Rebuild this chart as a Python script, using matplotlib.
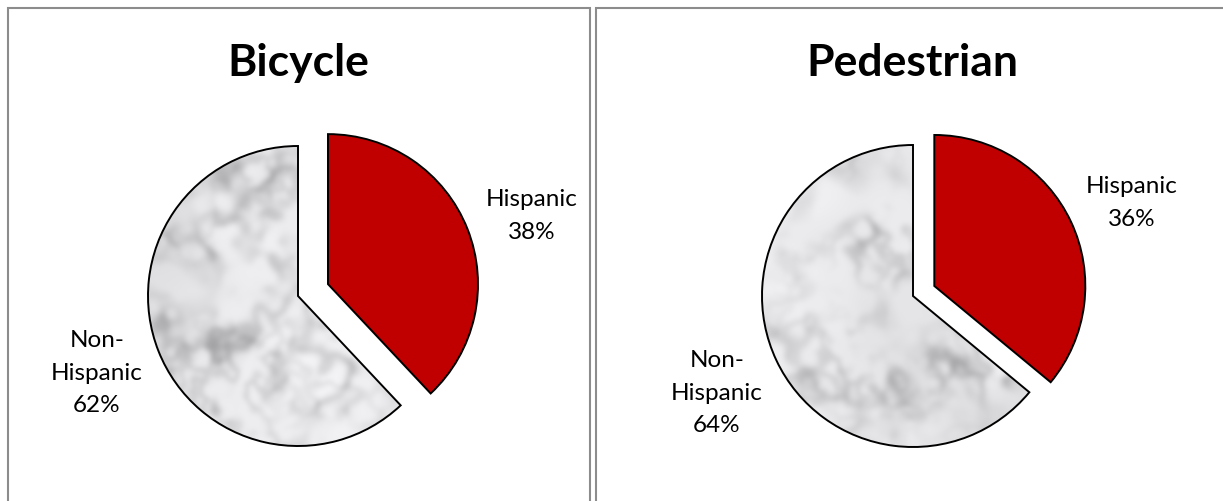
import numpy as np
import matplotlib
matplotlib.use("Agg")
import matplotlib.pyplot as plt
from matplotlib.patches import Rectangle

# Data
categories = ["Hispanic", "Non-Hispanic"]
bicycle = [38, 62]
pedestrian = [36, 64]
titles = ["Bicycle", "Pedestrian"]

W, H = 1223, 502
FONT = ["Lato", "DejaVu Sans"]
RED = "#C00000"


def marble_texture(n=300, seed=3):
    # soft grey mottled fill for the big slice
    rng = np.random.default_rng(seed)
    f = np.fft.fftfreq(n)
    fx, fy = np.meshgrid(f, f)
    k = np.sqrt(fx ** 2 + fy ** 2)
    k[0, 0] = 1.0

    def field(exp, cut):
        spec = np.fft.fft2(rng.standard_normal((n, n))) / k ** exp
        spec *= np.exp(-(k / cut) ** 2)
        spec[0, 0] = 0
        out = np.real(np.fft.ifft2(spec))
        return out / out.std()

    def blur(img, sigma):
        g = np.exp(-2 * (np.pi * sigma * k) ** 2)
        g[0, 0] = 1.0
        return np.real(np.fft.ifft2(np.fft.fft2(img) * g))

    v1 = np.exp(-(field(1.0, 0.05) / 0.6) ** 2)
    v2 = np.exp(-(field(1.0, 0.08) / 0.5) ** 2)
    shade = field(2.0, 0.03)
    mask = np.clip(0.5 + 0.4 * field(1.5, 0.04), 0, 1)
    veins = blur((0.6 * v1 + 0.4 * v2) * mask, 2.5)
    grey = 0.92 - 0.30 * veins + 0.02 * shade
    grey = np.clip(grey, 0.6, 0.97)
    rgb = np.dstack([grey, grey, grey * 1.012])
    return np.clip(rgb, 0, 1)


def pie_axes(fig, cx, cy, R, s=1.3):
    ax = fig.add_axes([(cx - s * R) / W, (H - cy - s * R) / H,
                       2 * s * R / W, 2 * s * R / H])
    return ax, s


def draw_pie(fig, values, cx, cy, R, explode, seed, lab_hisp, lab_non):
    ax, s = pie_axes(fig, cx, cy, R)
    wedges, _ = ax.pie(values, startangle=90, counterclock=False,
                       explode=[explode, 0], colors=[RED, "none"],
                       wedgeprops=dict(edgecolor="black", linewidth=1.4))
    for w in wedges:
        w.set_zorder(3)
    im = ax.imshow(marble_texture(seed=seed), extent=(-1, 1, -1, 1),
                   interpolation="bilinear", zorder=1)
    im.set_clip_path(wedges[1])
    ax.set_xlim(-s, s)
    ax.set_ylim(-s, s)
    ax.set_axis_off()

    hx, hy = lab_hisp
    nx, ny = lab_non
    ax.text(hx, hy, f"{categories[0]}\n{values[0]}%", ha="center", va="center",
            fontsize=17.5, family=FONT, linespacing=1.7)
    ax.text(nx, ny, f"Non-\nHispanic\n{values[1]}%", ha="center", va="center",
            fontsize=17.5, family=FONT, linespacing=1.7)
    return ax


fig = plt.figure(figsize=(W / 100, H / 100), dpi=100)

# panel frames
frame_kw = dict(transform=fig.transFigure, fill=False, edgecolor="#8c8c8c",
                linewidth=1.5, clip_on=False)
fig.patches.append(Rectangle((8 / W, -0.1), (590 - 8) / W, (H - 9) / H + 0.1, **frame_kw))
fig.patches.append(Rectangle((596 / W, -0.1), 1.0, (H - 9) / H + 0.1, **frame_kw))

# titles
fig.text(298 / W, 1 - 76 / H, titles[0], ha="center", va="baseline",
         fontsize=32, fontweight="bold", family=FONT)
fig.text(912 / W, 1 - 76 / H, titles[1], ha="center", va="baseline",
         fontsize=32, fontweight="bold", family=FONT)

draw_pie(fig, bicycle, 298, 297, 150, 0.215, 3, (1.56, 0.54), (-1.34, -0.507))
draw_pie(fig, pedestrian, 913, 297, 151, 0.156, 7, (1.45, 0.62), (-1.30, -0.636))

fig.savefig("out.png", dpi=100)
